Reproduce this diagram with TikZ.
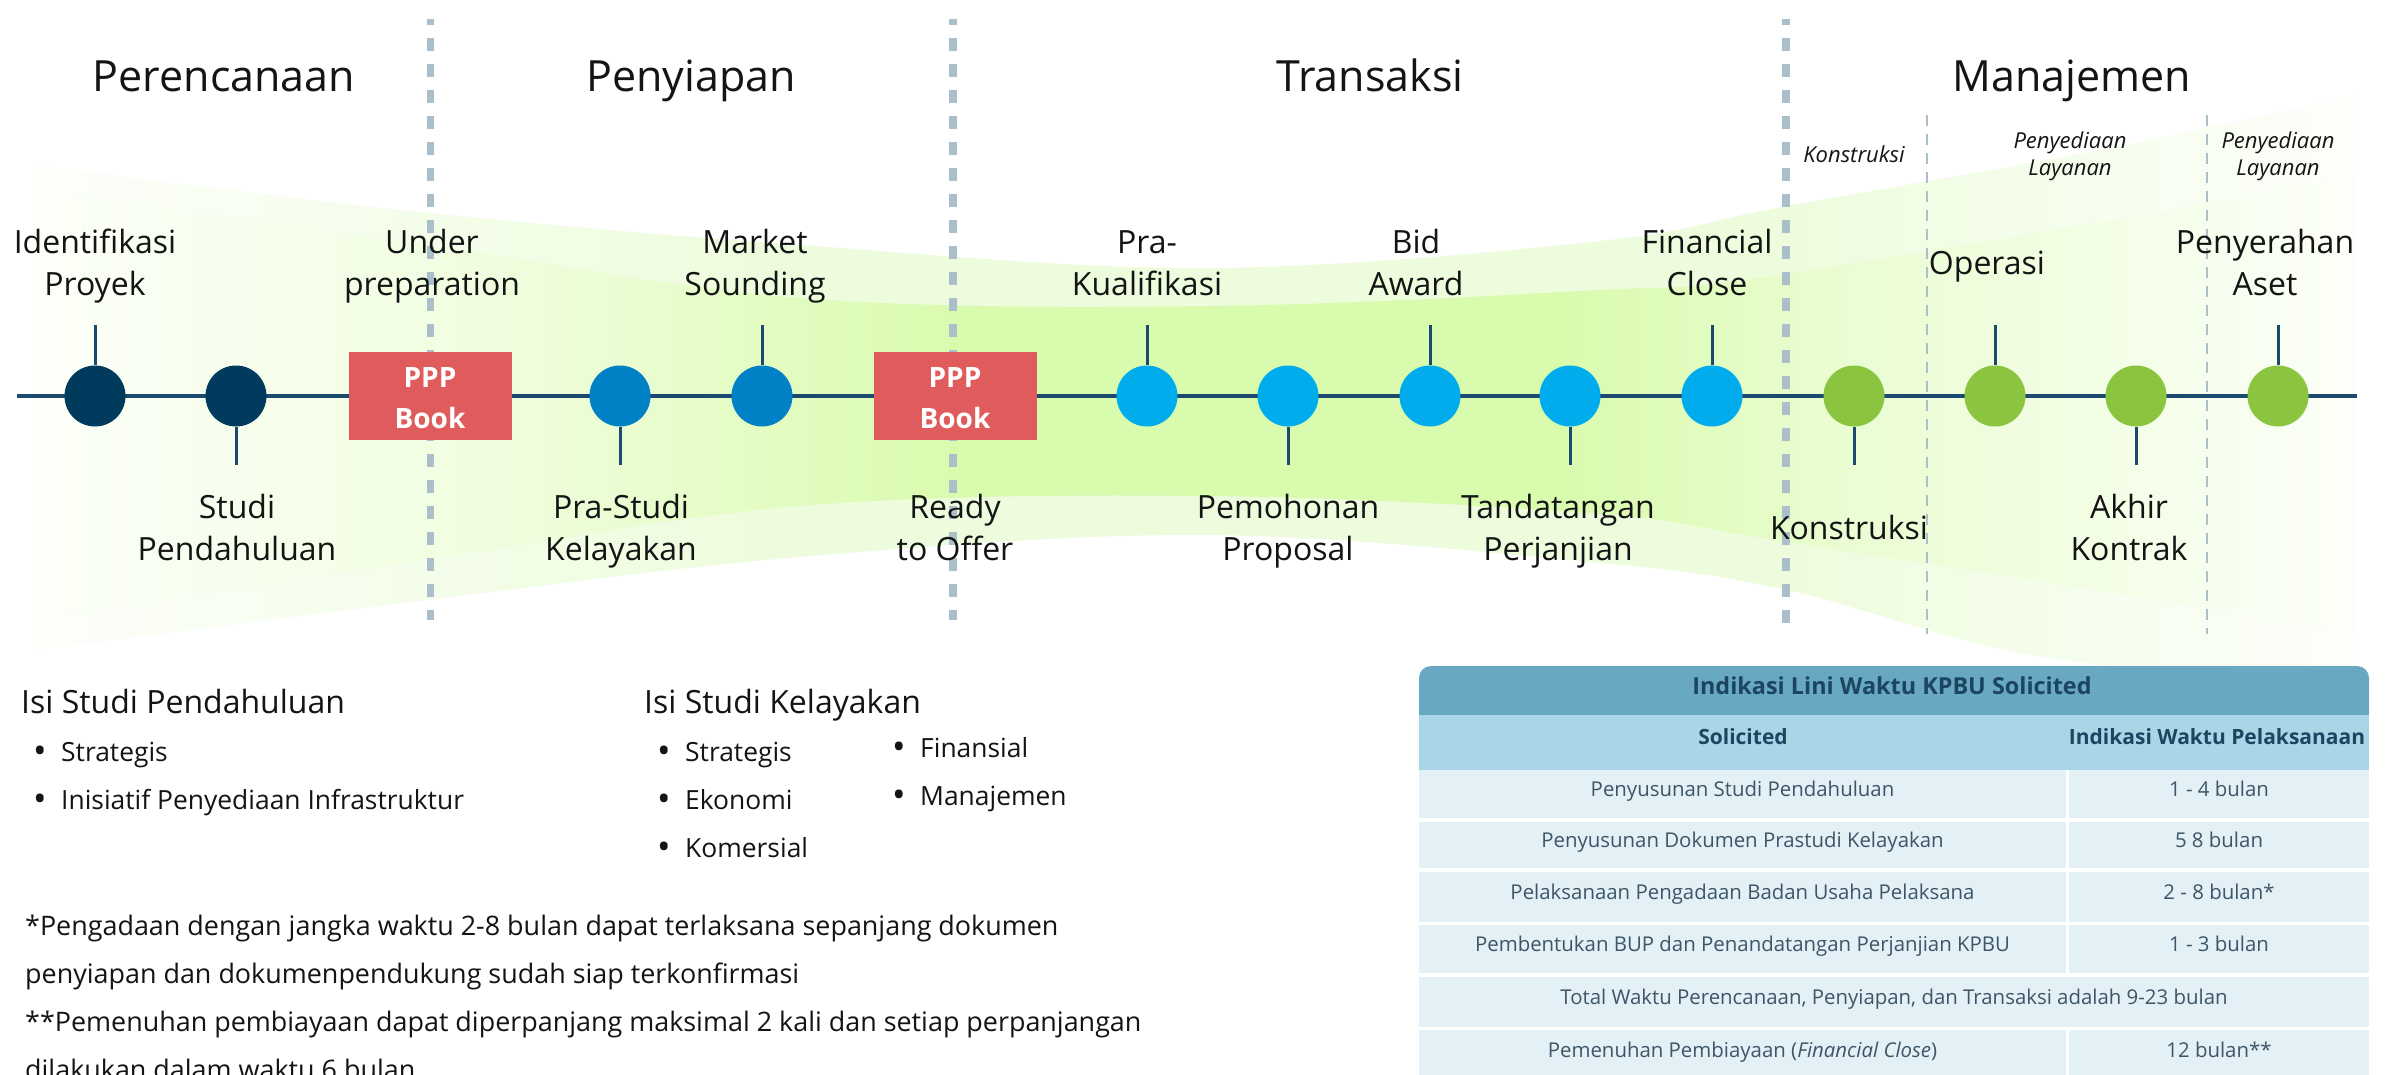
\documentclass[tikz,border=0pt]{standalone}
\usepackage{fontspec}
\setmainfont{Open Sans}
\definecolor{navy}{HTML}{003A5D}
\definecolor{midblue}{HTML}{0080C5}
\definecolor{cyanb}{HTML}{00ACEC}
\definecolor{grn}{HTML}{8BC53F}
\definecolor{tline}{HTML}{1C4A6E}
\definecolor{pppred}{HTML}{E05C5C}
\definecolor{dashc}{HTML}{ABBFCB}
\definecolor{bandI}{HTML}{D9FBAE}
\definecolor{bandO}{HTML}{EDFCDC}
\definecolor{tTitle}{HTML}{68A8C2}
\definecolor{tHead}{HTML}{A9D6E6}
\definecolor{tRow}{HTML}{E3F1F7}
\definecolor{tText}{HTML}{3D5567}
\definecolor{tHText}{HTML}{1B4560}
\definecolor{ink}{HTML}{141414}
\colorlet{bandOa}{bandO!12!white}
\colorlet{bandOb}{bandO!60!white}
\colorlet{bandIa}{bandI!8!white}
\colorlet{bandIb}{bandI!40!white}
\colorlet{bandIc}{bandI!55!white}
\pgfdeclarehorizontalshading{bandOsh}{100bp}{color(0bp)=(bandOa); color(25bp)=(bandOa); color(33bp)=(bandOb); color(42bp)=(bandO); color(62bp)=(bandO); color(68bp)=(bandOb); color(75bp)=(bandOa); color(100bp)=(bandOa)}
\pgfdeclarehorizontalshading{bandIsh}{100bp}{color(0bp)=(bandIa); color(25bp)=(bandIa); color(35bp)=(bandIb); color(45bp)=(bandI); color(58bp)=(bandI); color(64bp)=(bandIc); color(75bp)=(bandIa); color(100bp)=(bandIa)}
\newcommand\lblfont{\fontsize{32}{38}\selectfont}
\newcommand\headfont{\fontsize{43}{50}\selectfont}
\newcommand\subfont{\fontsize{22}{26}\selectfont\itshape}
\newcommand\pppfont{\fontsize{28}{32}\selectfont\bfseries}
\newcommand\secfont{\fontsize{32}{38}\selectfont}
\newcommand\itemfont{\fontsize{26.4}{32}\selectfont}
\newcommand\bulfont{\fontsize{36}{40}\selectfont}
\newcommand\notefont{\fontsize{26.9}{32}\selectfont}
\newcommand\tabfont{\fontsize{20.4}{24}\selectfont}
\newcommand\tabbold{\fontsize{21}{24}\selectfont\bfseries}
\newcommand\titlefont{\fontsize{23.4}{28}\selectfont\bfseries}
\begin{document}
\begin{tikzpicture}[x=1pt,y=-1pt,
  dot/.style={circle, fill=#1, minimum size=61pt, inner sep=0pt},
  stem/.style={draw=tline, line width=3pt},
  tl/.style={draw=tline, line width=3.5pt},
  pppbox/.style={fill=pppred, minimum width=163pt, minimum height=88pt, inner sep=0pt},
  ppptxt/.style={anchor=base, text=white, font=\pppfont, inner sep=0pt},
  lbl/.style={anchor=base, text=ink, font=\lblfont, inner sep=0pt},
  head/.style={anchor=base, text=ink, font=\headfont, inner sep=0pt},
  sublbl/.style={anchor=base, text=ink, font=\subfont, inner sep=0pt},
  thickdash/.style={draw=dashc, line width=7.5pt, dash pattern=on 13pt off 13pt, dash phase=6.7pt},
  thindash/.style={draw=dashc, line width=2.2pt, dash pattern=on 11pt off 8pt},
  sec/.style={anchor=base west, text=ink, font=\secfont, inner sep=0pt},
  itm/.style={anchor=base west, text=ink, font=\itemfont, inner sep=0pt},
  note/.style={anchor=base west, text=ink, font=\notefont, inner sep=0pt},
  bul/.style={anchor=base, text=ink, font=\bulfont, inner sep=0pt},
  cell/.style={fill=tRow, inner sep=0pt, text=tText, font=\tabfont, text height=0.72em, text depth=0.2em},
  hcell/.style={inner sep=0pt, text=tHText, font=\tabbold, text height=0.72em, text depth=0.2em}
]
\path[use as bounding box] (0,0) rectangle (2390,1075);
\clip (0,0) rectangle (2390,1075);
\fill[white] (0,0) rectangle (2390,1075);

% ---------- green band ----------
\shade[shading=bandOsh] plot[smooth, tension=0.6] coordinates {(34,165) (400,210) (800,245) (1208,268) (1600,241) (1787,206) (2100,150) (2356,95)}
  -- plot[smooth, tension=0.6] coordinates {(2356,690) (2032,655) (1787,590) (1600,563) (1208,535) (800,557) (428,600) (34,650)} -- cycle;
\shade[shading=bandIsh] plot[smooth, tension=0.6] coordinates {(34,190) (428,245) (800,298) (1208,306) (1600,290) (1787,274) (2356,178)}
  -- plot[smooth, tension=0.6] coordinates {(2356,631) (1787,542) (1600,514) (1208,496) (800,506) (428,560) (34,620)} -- cycle;

% ---------- dashed separators ----------
\coordinate (d1t) at (430.5,19); \coordinate (d1b) at (430.5,620);
\coordinate (d2t) at (953,19);   \coordinate (d2b) at (953,620);
\coordinate (d3t) at (1786,19);  \coordinate (d3b) at (1786,634);
\draw[thickdash] (d1t) -- (d1b);
\draw[thickdash] (d2t) -- (d2b);
\draw[thickdash] (d3t) -- (d3b);
\coordinate (e1t) at (1927,115); \coordinate (e1b) at (1927,634);
\coordinate (e2t) at (2207,115); \coordinate (e2b) at (2207,634);
\draw[thindash] (e1t) -- (e1b);
\draw[thindash] (e2t) -- (e2b);

% ---------- phase headings ----------
\node[head] (h1) at (224,92) {Perencanaan};
\node[head] (h2) at (691,92) {Penyiapan};
\node[head] (h3) at (1370,92) {Transaksi};
\node[head] (h4) at (2072,92) {Manajemen};

\node[sublbl] (k1) at (1854,162.5) {Konstruksi};
\node[sublbl] (k2a) at (2070,149) {Penyediaan};
\node[sublbl] (k2b) at (2070,175.5) {Layanan};
\node[sublbl] (k3a) at (2278,149) {Penyediaan};
\node[sublbl] (k3b) at (2278,175.5) {Layanan};

% ---------- timeline ----------
\coordinate (tlL) at (17,396); \coordinate (tlR) at (2357,396);
\draw[tl] (tlL) -- (tlR);

\node[dot=navy] (c1) at (95,396) {};
\node[dot=navy] (c2) at (236,396) {};
\node[pppbox] (b1) at (430,396) {};
\node[dot=midblue] (c3) at (620,396) {};
\node[dot=midblue] (c4) at (762,396) {};
\node[pppbox] (b2) at (955,396) {};
\node[dot=cyanb] (c5) at (1147,396) {};
\node[dot=cyanb] (c6) at (1288,396) {};
\node[dot=cyanb] (c7) at (1430,396) {};
\node[dot=cyanb] (c8) at (1570,396) {};
\node[dot=cyanb] (c9) at (1712,396) {};
\node[dot=grn] (c10) at (1854,396) {};
\node[dot=grn] (c11) at (1995,396) {};
\node[dot=grn] (c12) at (2136,396) {};
\node[dot=grn] (c13) at (2278,396) {};

\node[ppptxt] (b1a) at (430,387) {PPP};
\node[ppptxt] (b1b) at (430,428) {Book};
\node[ppptxt] (b2a) at (955,387) {PPP};
\node[ppptxt] (b2b) at (955,428) {Book};

% stems
\coordinate (s1) at (95,325);   \draw[stem] (c1) -- (s1);
\coordinate (s2) at (236,465);  \draw[stem] (c2) -- (s2);
\coordinate (s3) at (620,465);  \draw[stem] (c3) -- (s3);
\coordinate (s4) at (762,325);  \draw[stem] (c4) -- (s4);
\coordinate (s5) at (1147,325); \draw[stem] (c5) -- (s5);
\coordinate (s6) at (1288,465); \draw[stem] (c6) -- (s6);
\coordinate (s7) at (1430,325); \draw[stem] (c7) -- (s7);
\coordinate (s8) at (1570,465); \draw[stem] (c8) -- (s8);
\coordinate (s9) at (1712,325); \draw[stem] (c9) -- (s9);
\coordinate (s10) at (1854,465); \draw[stem] (c10) -- (s10);
\coordinate (s11) at (1995,325); \draw[stem] (c11) -- (s11);
\coordinate (s12) at (2136,465); \draw[stem] (c12) -- (s12);
\coordinate (s13) at (2278,325); \draw[stem] (c13) -- (s13);

% upper labels
\node[lbl] (u1a) at (95,254) {Identifikasi};   \node[lbl] (u1b) at (95,296) {Proyek};
\node[lbl] (u2a) at (432,254) {Under};         \node[lbl] (u2b) at (432,296) {preparation};
\node[lbl] (u3a) at (755,254) {Market};        \node[lbl] (u3b) at (755,296) {Sounding};
\node[lbl] (u4a) at (1147,254) {Pra-};         \node[lbl] (u4b) at (1147,296) {Kualifikasi};
\node[lbl] (u5a) at (1416,254) {Bid};          \node[lbl] (u5b) at (1416,296) {Award};
\node[lbl] (u6a) at (1707,254) {Financial};    \node[lbl] (u6b) at (1707,296) {Close};
\node[lbl] (u7) at (1987,275) {Operasi};
\node[lbl] (u8a) at (2265,254) {Penyerahan};   \node[lbl] (u8b) at (2265,296) {Aset};

% lower labels
\node[lbl] (l1a) at (237,518) {Studi};         \node[lbl] (l1b) at (237,560) {Pendahuluan};
\node[lbl] (l2a) at (621,518) {Pra-Studi};     \node[lbl] (l2b) at (621,560) {Kelayakan};
\node[lbl] (l3a) at (955,518) {Ready};         \node[lbl] (l3b) at (955,560) {to Offer};
\node[lbl] (l4a) at (1288,518) {Pemohonan};    \node[lbl] (l4b) at (1288,560) {Proposal};
\node[lbl] (l5a) at (1558,518) {Tandatangan};  \node[lbl] (l5b) at (1558,560) {Perjanjian};
\node[lbl] (l6) at (1849,539) {Konstruksi};
\node[lbl] (l7a) at (2129,518) {Akhir};        \node[lbl] (l7b) at (2129,560) {Kontrak};

% ---------- lower left text ----------
\node[sec] (isp) at (21,713) {Isi Studi Pendahuluan};
\node[bul] (p1b) at (40,763) {•}; \node[itm] (p1) at (61,761) {Strategis};
\node[bul] (p2b) at (40,811) {•}; \node[itm] (p2) at (61,809) {Inisiatif Penyediaan Infrastruktur};

\node[sec] (isk) at (644,713) {Isi Studi Kelayakan};
\node[bul] (q1b) at (664,763) {•}; \node[itm] (q1) at (685,761) {Strategis};
\node[bul] (q2b) at (664,811) {•}; \node[itm] (q2) at (685,809) {Ekonomi};
\node[bul] (q3b) at (664,859) {•}; \node[itm] (q3) at (685,857) {Komersial};
\node[bul] (q4b) at (899,759) {•}; \node[itm] (q4) at (920,757) {Finansial};
\node[bul] (q5b) at (899,807) {•}; \node[itm] (q5) at (920,805) {Manajemen};

\node[note] (f1) at (25,935) {*Pengadaan dengan jangka waktu 2-8 bulan dapat terlaksana sepanjang dokumen};
\node[note] (f2) at (25,983) {penyiapan dan dokumenpendukung sudah siap terkonfirmasi};
\node[note] (f3) at (25,1031) {**Pemenuhan pembiayaan dapat diperpanjang maksimal 2 kali dan setiap perpanjangan};
\node[note] (f4) at (25,1079) {dilakukan dalam waktu 6 bulan};

% ---------- table ----------
\node[fill=tTitle, rounded corners=12pt, minimum width=950pt, minimum height=60pt, inner sep=0pt] (t0) at (1894,696) {};
\node[hcell, font=\titlefont] (t0t) at (1892,692) {Indikasi Lini Waktu KPBU Solicited};
\node[fill=tHead, minimum width=950pt, minimum height=55pt, inner sep=0pt] (th) at (1894,742.5) {};
\node[hcell] (th1) at (1743,742) {Solicited};
\node[hcell] (th2) at (2217,742) {Indikasi Waktu Pelaksanaan};

\node[cell, minimum width=647pt, minimum height=48pt] (r1a) at (1742.5,794) {Penyusunan Studi Pendahuluan};
\node[cell, minimum width=300pt, minimum height=48pt] (r1b) at (2219,794) {1 - 4 bulan};
\node[cell, minimum width=647pt, minimum height=46pt] (r2a) at (1742.5,845) {Penyusunan Dokumen Prastudi Kelayakan};
\node[cell, minimum width=300pt, minimum height=46pt] (r2b) at (2219,845) {5 8 bulan};
\node[cell, minimum width=647pt, minimum height=50pt] (r3a) at (1742.5,897) {Pelaksanaan Pengadaan Badan Usaha Pelaksana};
\node[cell, minimum width=300pt, minimum height=50pt] (r3b) at (2219,897) {2 - 8 bulan*};
\node[cell, minimum width=647pt, minimum height=48pt] (r4a) at (1742.5,949) {Pembentukan BUP dan Penandatangan Perjanjian KPBU};
\node[cell, minimum width=300pt, minimum height=48pt] (r4b) at (2219,949) {1 - 3 bulan};
\node[cell, minimum width=950pt, minimum height=50pt] (r5) at (1894,1002) {Total Waktu Perencanaan, Penyiapan, dan Transaksi adalah 9-23 bulan};
\node[cell, minimum width=647pt, minimum height=50pt] (r6a) at (1742.5,1055) {Pemenuhan Pembiayaan (\textit{Financial Close})};
\node[cell, minimum width=300pt, minimum height=50pt] (r6b) at (2219,1055) {12 bulan**};
\end{tikzpicture}
\end{document}
